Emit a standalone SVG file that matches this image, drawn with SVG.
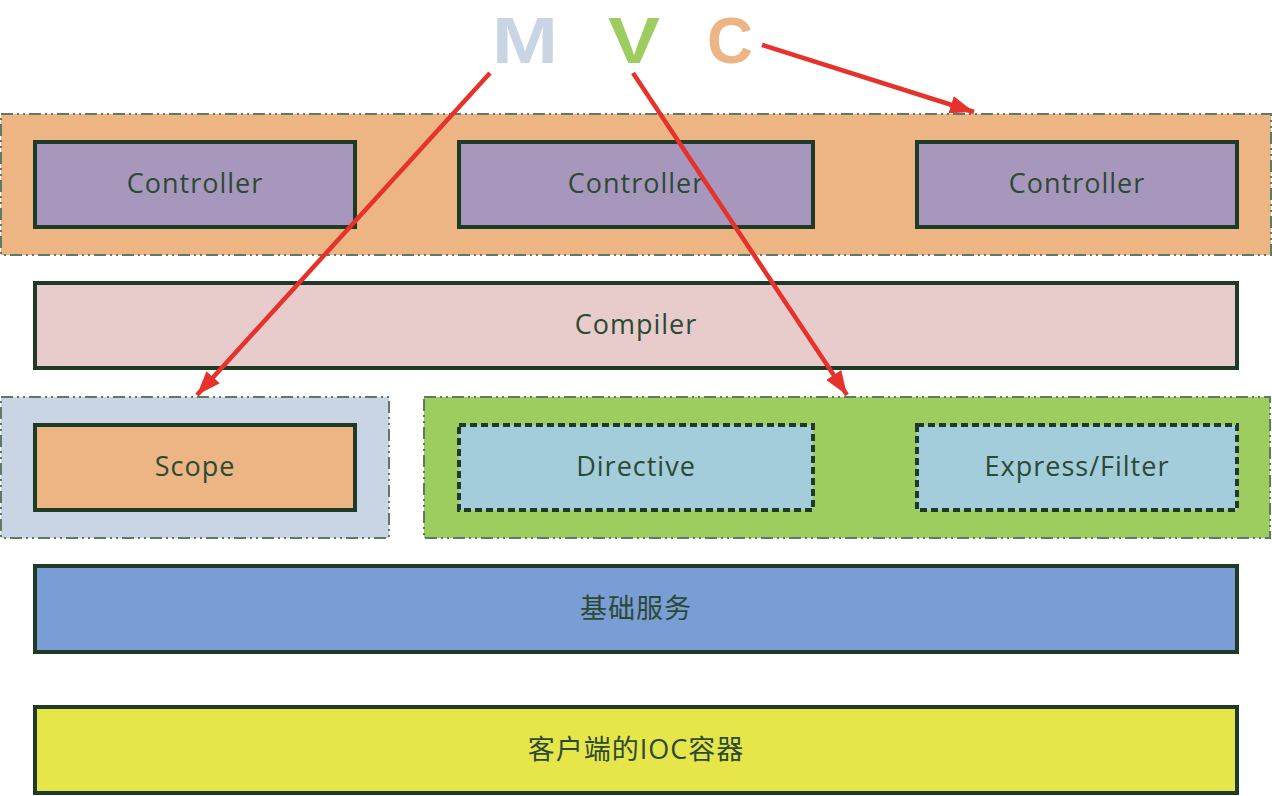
<svg xmlns="http://www.w3.org/2000/svg" width="1272" height="796" viewBox="0 0 1272 796">
<defs>
<style>
.txt{font-family:"Open Sans","Noto Sans CJK SC",sans-serif;font-size:27px;letter-spacing:1px;fill:#2b4a35;text-anchor:middle;dominant-baseline:central}
.box{stroke:#1f3b28;stroke-width:4}
.dbox{stroke:#1f3b28;stroke-width:4;stroke-dasharray:7 4}
.grp{stroke:#5e7a62;stroke-width:2;stroke-dasharray:12 4 2 4 2 4}
.arr{stroke:#e5322a;stroke-width:4.5;fill:none;marker-end:url(#ah)}
.big{font-family:"Liberation Sans",Arial,sans-serif;font-size:64px;font-weight:bold;text-anchor:middle}
</style>
<marker id="ah" markerUnits="userSpaceOnUse" markerWidth="26" markerHeight="20" refX="24" refY="10" orient="auto">
<path d="M0,1 L24,10 L0,19 Z" fill="#e5322a"/>
</marker>
</defs>
<rect width="1272" height="796" fill="#ffffff"/>
<g id="mvc">
<text class="big" x="525" y="63" fill="#c9d5e4" textLength="66" lengthAdjust="spacingAndGlyphs">M</text>
<text class="big" x="634" y="63" fill="#9dcc5f" textLength="52" lengthAdjust="spacingAndGlyphs">V</text>
<text class="big" x="730" y="63" fill="#edb584" textLength="46" lengthAdjust="spacingAndGlyphs">C</text>
</g>
<g id="controllerLayer">
<rect class="grp" x="1" y="114" width="1270" height="141" fill="#edb584"/>
</g>
<g id="controller1"><rect class="box" x="35" y="142" width="320" height="85" fill="#a897bd"/><text class="txt" x="195" y="182">Controller</text></g>
<g id="controller2"><rect class="box" x="459" y="142" width="354" height="85" fill="#a897bd"/><text class="txt" x="636" y="182">Controller</text></g>
<g id="controller3"><rect class="box" x="917" y="142" width="320" height="85" fill="#a897bd"/><text class="txt" x="1077" y="182">Controller</text></g>
<g id="compiler"><rect class="box" x="35" y="283" width="1202" height="85" fill="#e8cccb"/><text class="txt" x="636" y="323">Compiler</text></g>
<g id="scopeLayer"><rect class="grp" x="1" y="397" width="388" height="141" fill="#c9d5e4"/></g>
<g id="scope"><rect class="box" x="35" y="425" width="320" height="85" fill="#edb584"/><text class="txt" x="195" y="465">Scope</text></g>
<g id="viewLayer"><rect class="grp" x="424" y="397" width="846" height="141" fill="#9dcc5f"/></g>
<g id="directive"><rect class="dbox" x="459" y="425" width="354" height="85" fill="#a4cddb"/><text class="txt" x="636" y="465">Directive</text></g>
<g id="express"><rect class="dbox" x="917" y="425" width="320" height="85" fill="#a4cddb"/><text class="txt" x="1077" y="465">Express/Filter</text></g>
<g id="services"><rect class="box" x="35" y="566" width="1202" height="86" fill="#7a9dd5"/><text class="txt" x="636" y="607">基础服务</text></g>
<g id="ioc"><rect class="box" x="35" y="707" width="1202" height="86" fill="#e6e54a"/><text class="txt" x="636" y="748">客户端的IOC容器</text></g>
<g id="connectors">
<line class="arr" x1="490" y1="73" x2="197" y2="395"/>
<line class="arr" x1="633" y1="73" x2="847" y2="395"/>
<line class="arr" x1="762" y1="45" x2="974" y2="112"/>
</g>
</svg>
